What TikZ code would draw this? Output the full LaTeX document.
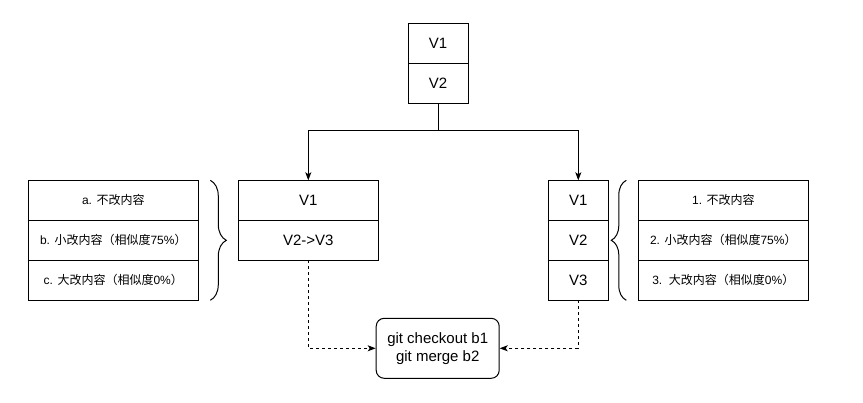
\documentclass[tikz,border=0pt]{standalone}
\usepackage{fontspec}
\setmainfont{Liberation Sans}
\newfontfamily\cjk{Noto Sans CJK SC}
\usepackage{tikz}
\usetikzlibrary{positioning,arrows.meta,decorations.pathreplacing}
\newcommand{\zh}[1]{{\cjk #1}}

\begin{document}
\begin{tikzpicture}[x=1pt,y=-1pt,
    cell/.style={draw,line width=1pt,outer sep=0pt,inner sep=0pt,minimum height=40pt,font=\fontsize{15}{18}\selectfont},
    note/.style={cell,minimum width=170pt,font=\fontsize{12}{14}\selectfont},
    arr/.style={line width=1pt,-{Stealth[length=8pt,width=6pt,inset=2pt]}},
    dasharr/.style={arr,dash pattern=on 3pt off 3pt}]
    \useasboundingbox (0,0) rectangle (863,403);
    % top
    \node[cell,minimum width=60pt] (top1) at (438,43.3) {V1};
    \node[cell,minimum width=60pt,below=0pt of top1] (top2) {V2};
    % left branch
    \node[cell,minimum width=140pt] (lv1) at (308.3,200.3) {V1};
    \node[cell,minimum width=140pt,below=0pt of lv1] (lv2) {V2->V3};
    \node[note] (ln1) at (113.3,200.3) {a. \zh{不改内容}};
    \node[note,below=0pt of ln1] (ln2) {b. \zh{小改内容（相似度}75\%\zh{）}};
    \node[note,below=0pt of ln2] (ln3) {c. \zh{大改内容（相似度}0\%\zh{）}};
    % right branch
    \node[cell,minimum width=60pt] (rv1) at (578.3,200.3) {V1};
    \node[cell,minimum width=60pt,below=0pt of rv1] (rv2) {V2};
    \node[cell,minimum width=60pt,below=0pt of rv2] (rv3) {V3};
    \node[note] (rn1) at (723.3,200.3) {1. \zh{不改内容}};
    \node[note,below=0pt of rn1] (rn2) {2. \zh{小改内容（相似度}75\%\zh{）}};
    \node[note,below=0pt of rn2] (rn3) {3.~~\zh{大改内容（相似度}0\%\zh{）}};
    % merge
    \node[draw,line width=1pt,rounded corners=8pt,minimum width=123pt,minimum height=60pt,
          align=center,font=\fontsize{15}{17.7}\selectfont] (git) at (437.7,348.3)
          {git checkout b1\\git merge b2};
    % braces
    \draw[line width=1pt,decorate,decoration={brace,amplitude=16pt}]
        ([xshift=12pt]ln1.north east) -- ([xshift=12pt]ln3.south east);
    \draw[line width=1pt,decorate,decoration={brace,mirror,amplitude=15pt}]
        ([xshift=-12pt]rn1.north west) -- ([xshift=-12pt]rn3.south west);
    % connectors
    \draw[arr] (top2.south) -- ++(0,27) -| (lv1.north);
    \draw[arr] (top2.south) -- ++(0,27) -| (rv1.north);
    \draw[dasharr] (lv2.south) |- (git.west);
    \draw[dasharr] (rv3.south) |- (git.east);
\end{tikzpicture}
\end{document}
